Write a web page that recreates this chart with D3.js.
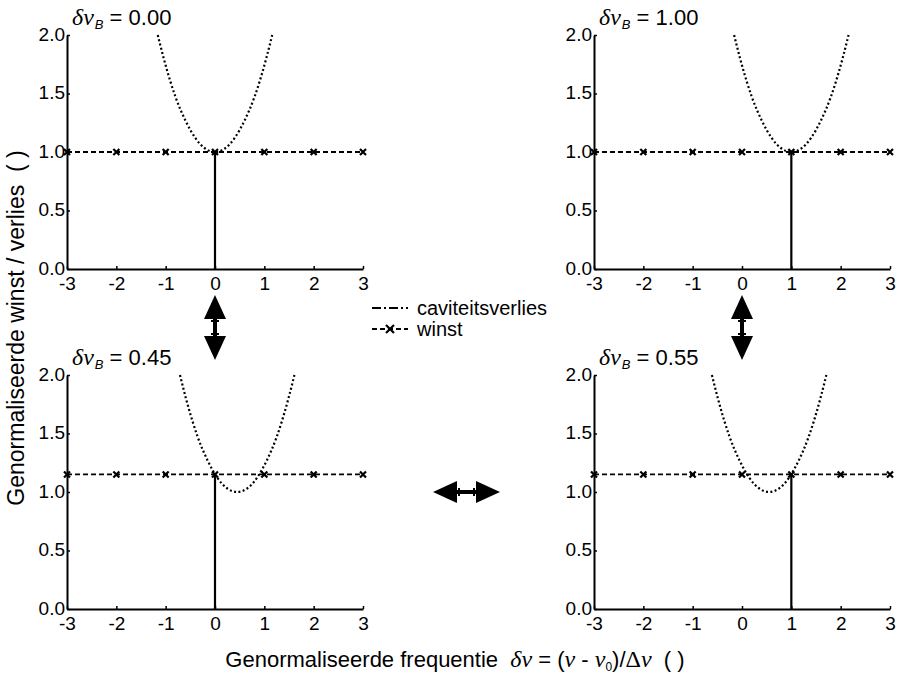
<!DOCTYPE html>
<html>
<head>
<meta charset="utf-8">
<script src="https://cdn.jsdelivr.net/npm/d3@7"></script>
<style>
  body { margin: 0; background: #fff; }
  svg text { font-family: "Liberation Sans", Arial, sans-serif; fill: #000; white-space: pre; }
  .greek { font-family: "Liberation Serif", "Times New Roman", serif; font-style: italic; }
</style>
</head>
<body>
<div id="chart"></div>
<script>
// panel labels (delta nu_B) and common axes
var panelLabels = ['0.00', '1.00', '0.45', '0.55'],
    xTicks = [-3, -2, -1, 0, 1, 2, 3],
    yTicks = [0, 0.5, 1, 1.5, 2]

// gain (winst): markers at integer detunings, flat level per panel
var gainX = [-3, -2, -1, 0, 1, 2, 3],
    gainLevel = [1.0, 1.0, 1.15, 1.15],
    laserMode = [0, 1, 0, 1]

// cavity loss (caviteitsverlies)
var lossY = [2.0, 1.74, 1.47, 1.27, 1.12, 1.03, 1.0, 1.03, 1.12, 1.27, 1.47, 1.74, 2.0]
var lossX000 = [-1.16, -1.0, -0.8, -0.6, -0.4, -0.2, 0, 0.2, 0.4, 0.6, 0.8, 1.0, 1.16],
    lossX100 = [-0.16, 0, 0.2, 0.4, 0.6, 0.8, 1.0, 1.2, 1.4, 1.6, 1.8, 2.0, 2.16],
    lossX045 = [-0.71, -0.55, -0.35, -0.15, 0.05, 0.25, 0.45, 0.65, 0.85, 1.05, 1.25, 1.45, 1.61],
    lossX055 = [-0.61, -0.45, -0.25, -0.05, 0.15, 0.35, 0.55, 0.75, 0.95, 1.15, 1.35, 1.55, 1.71]
var lossX = [lossX000, lossX100, lossX045, lossX055]

var width = 897, height = 674,
    plotW = 296, plotH = 234,
    origins = [[67, 35], [594, 35], [67, 375], [594, 375]]

var svg = d3.select('#chart').append('svg')
    .attr('width', width)
    .attr('height', height)

var x = d3.scaleLinear().domain([-3, 3]).range([0, plotW]),
    y = d3.scaleLinear().domain([0, 2]).range([plotH, 0])

var lossLine = d3.line()
    .x(function(d) { return x(d[0]) })
    .y(function(d) { return y(d[1]) })
    .curve(d3.curveNatural)

function drawCross(g, cx, cy, r) {
    g.append('path')
        .attr('d', 'M' + (cx - r) + ',' + (cy - r) + 'L' + (cx + r) + ',' + (cy + r) +
                   'M' + (cx - r) + ',' + (cy + r) + 'L' + (cx + r) + ',' + (cy - r))
        .attr('stroke', '#000')
        .attr('stroke-width', 2.2)
}

panelLabels.forEach(function(label, i) {
    var g = svg.append('g')
        .attr('transform', 'translate(' + origins[i][0] + ',' + origins[i][1] + ')')

    // title
    var t = g.append('text')
        .attr('x', 5)
        .attr('y', -10)
        .attr('font-size', 22)
    t.append('tspan').attr('class', 'greek').attr('font-size', 24).text('δν')
    t.append('tspan').attr('font-size', 13).attr('font-style', 'italic').attr('dy', 4).attr('dx', 1).text('B')
    t.append('tspan').attr('dy', -4).text(' = ' + label)

    // axes
    var ax = g.append('g')
        .attr('transform', 'translate(0,' + plotH + ')')
        .call(d3.axisBottom(x).tickValues(xTicks).tickSizeInner(-3).tickSizeOuter(0)
            .tickPadding(8).tickFormat(function(d) { return String(d) }))
    var ay = g.append('g')
        .call(d3.axisLeft(y).tickValues(yTicks).tickSizeInner(-3).tickSizeOuter(0)
            .tickPadding(2).tickFormat(d3.format('.1f')))
    ;[ax, ay].forEach(function(a) {
        a.select('.domain').attr('stroke-width', 2)
        a.selectAll('.tick line').attr('stroke-width', 1.5)
        a.selectAll('text').attr('font-size', 19).attr('font-family', '"Liberation Sans", Arial, sans-serif')
    })
    ay.selectAll('.tick text').attr('dy', '0.28em')

    // loss curve
    var pts = lossX[i].map(function(v, k) { return [v, lossY[k]] })
    g.append('path')
        .attr('d', lossLine(pts))
        .attr('fill', 'none')
        .attr('stroke', '#000')
        .attr('stroke-width', 2.2)
        .attr('stroke-dasharray', '2,2.4')

    // gain line
    g.append('line')
        .attr('x1', x(gainX[0])).attr('x2', x(gainX[gainX.length - 1]))
        .attr('y1', y(gainLevel[i])).attr('y2', y(gainLevel[i]))
        .attr('stroke', '#000')
        .attr('stroke-width', 1.8)
        .attr('stroke-dasharray', '5,3')
    gainX.forEach(function(v) { drawCross(g, x(v), y(gainLevel[i]), 3) })

    // lasing mode
    g.append('line')
        .attr('x1', x(laserMode[i])).attr('x2', x(laserMode[i]))
        .attr('y1', y(0)).attr('y2', y(gainLevel[i]))
        .attr('stroke', '#000')
        .attr('stroke-width', 2.2)
})

// double arrows
function doubleArrow(x1, y1, x2, y2) {
    var ang = Math.atan2(y2 - y1, x2 - x1),
        len = Math.hypot(x2 - x1, y2 - y1),
        g = svg.append('g')
            .attr('transform', 'translate(' + x1 + ',' + y1 + ') rotate(' + (ang * 180 / Math.PI) + ')'),
        hl = 24, hw = 11
    g.append('path').attr('d', 'M0,0L' + hl + ',' + (-hw) + 'L' + hl + ',' + hw + 'Z')
    g.append('path').attr('d', 'M' + len + ',0L' + (len - hl) + ',' + (-hw) + 'L' + (len - hl) + ',' + hw + 'Z')
    g.append('line').attr('x1', hl).attr('x2', len - hl).attr('y1', 0).attr('y2', 0)
        .attr('stroke', '#000').attr('stroke-width', 4)
    ;[hl + 2, len - hl - 2].forEach(function(p) {
        g.append('line').attr('x1', p).attr('x2', p).attr('y1', -4).attr('y2', 4)
            .attr('stroke', '#000').attr('stroke-width', 2)
    })
}
doubleArrow(origins[0][0] + x(0), 295, origins[0][0] + x(0), 360)
doubleArrow(origins[1][0] + x(0), 295, origins[1][0] + x(0), 360)
doubleArrow(433, origins[2][1] + y(1), 500, origins[2][1] + y(1))

// legend
var leg = svg.append('g').attr('transform', 'translate(372,308)')
leg.append('line').attr('x1', 0).attr('x2', 36).attr('y1', 0).attr('y2', 0)
    .attr('stroke', '#000').attr('stroke-width', 2).attr('stroke-dasharray', '9,3,2,3')
leg.append('text').attr('x', 45).attr('y', 7).attr('font-size', 20).text('caviteitsverlies')
leg.append('line').attr('x1', 0).attr('x2', 36).attr('y1', 21).attr('y2', 21)
    .attr('stroke', '#000').attr('stroke-width', 1.8).attr('stroke-dasharray', '5,3')
drawCross(leg, 18, 21, 4)
leg.append('text').attr('x', 45).attr('y', 28).attr('font-size', 20).text('winst')

// axis titles
var xl = svg.append('text')
    .attr('x', 455)
    .attr('y', 667)
    .attr('text-anchor', 'middle')
    .attr('font-size', 22)
xl.append('tspan').text('Genormaliseerde frequentie  ')
xl.append('tspan').attr('class', 'greek').attr('font-size', 24).text('δν')
xl.append('tspan').text(' = (')
xl.append('tspan').attr('class', 'greek').attr('font-size', 24).text('ν')
xl.append('tspan').text(' - ')
xl.append('tspan').attr('class', 'greek').attr('font-size', 24).text('ν')
xl.append('tspan').attr('font-size', 12).attr('dy', 4).text('0')
xl.append('tspan').attr('dy', -4).text(')/')
xl.append('tspan').attr('font-family', '"Liberation Serif", serif').attr('font-size', 24).text('Δ')
xl.append('tspan').attr('class', 'greek').attr('font-size', 24).text('ν')
xl.append('tspan').text('  ( )')

svg.append('text')
    .attr('transform', 'translate(24,328) rotate(-90)')
    .attr('text-anchor', 'middle')
    .attr('font-size', 23)
    .text('Genormaliseerde winst / verlies  ( )')
</script>
</body>
</html>
